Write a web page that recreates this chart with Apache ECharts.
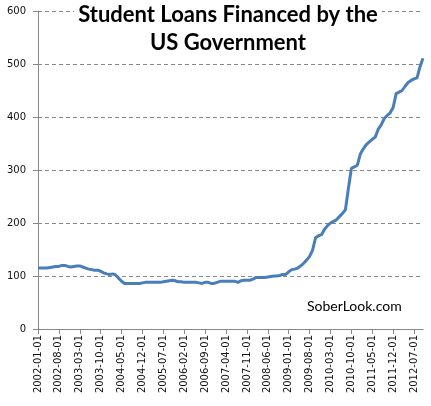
<!DOCTYPE html>
<html>
<head>
<meta charset="utf-8">
<script src="https://cdn.jsdelivr.net/npm/echarts@6/dist/echarts.min.js"></script>
<style>html,body{margin:0;padding:0;background:#fff}#c{width:431px;height:406px}</style>
</head>
<body>
<div id="c"></div>
<script>
// Monthly categories 2002-01 .. 2012-10
const startYear = 2002, startMonth = 1, monthCount = 130;
const categories = [];
for (let i = 0; i < monthCount; i++) {
  const y = startYear + Math.floor((startMonth - 1 + i) / 12);
  const m = ((startMonth - 1 + i) % 12) + 1;
  categories.push(y + '-' + (m < 10 ? '0' + m : m) + '-01');
}
// Student loans financed by the US government (billions $)
const loans = [
  115,115,115,115,116,117,118,118,120,120,
  118,117,118,119,119,117,115,113,112,111,
  111,109,106,104,103,104,102,96,90,86,
  86,86,86,86,86,87,88,88,88,88,
  88,88,89,90,91,92,91,89,89,88,
  88,88,88,88,87,86,88,88,86,86,
  88,90,90,90,90,90,90,88,91,92,
  92,92,94,97,97,97,97,98,99,100,
  100,101,103,103,108,112,113,115,119,124,
  130,137,149,172,176,178,188,195,200,203,
  206,212,218,225,265,303,306,309,330,340,
  348,353,358,362,377,385,397,403,408,418,
  444,447,450,458,465,469,472,474,495,511
];
const yTicks = [0, 100, 200, 300, 400, 500, 600];
const titleText = 'Student Loans Financed by the\nUS Government';
const watermark = 'SoberLook.com';

const chart = echarts.init(document.getElementById('c'));
chart.setOption({
  animation: false,
  backgroundColor: '#fff',
  title: {
    text: titleText,
    left: 224,
    textAlign: 'center',
    top: 0,
    padding: [1, 4, 2, 4],
    backgroundColor: '#fff',
    z: 10,
    textStyle: { fontFamily: 'Lato', fontWeight: 'bold', fontSize: 22, lineHeight: 28, color: '#000' }
  },
  graphic: [{
    type: 'text', left: 307, top: 299, z: 10,
    style: { text: watermark, fontFamily: 'Lato', fontSize: 14, fill: '#000' }
  }],
  grid: { left: 38, right: 8, top: 11, bottom: 77 },
  xAxis: {
    type: 'category',
    data: categories,
    boundaryGap: false,
    axisLine: { lineStyle: { color: '#888', width: 1 } },
    axisTick: { interval: 6, length: 5, lineStyle: { color: '#888' } },
    axisLabel: { interval: 6, rotate: 90, margin: 6, fontFamily: 'DejaVu Sans', fontSize: 10, color: '#111' },
    splitLine: { show: false }
  },
  yAxis: {
    type: 'value',
    min: yTicks[0],
    max: yTicks[yTicks.length - 1],
    interval: 100,
    axisLine: { show: true, lineStyle: { color: '#888', width: 1 } },
    axisTick: { show: true, length: 5, lineStyle: { color: '#888' } },
    axisLabel: { margin: 12, fontFamily: 'DejaVu Sans', fontSize: 10, color: '#111' },
    splitLine: { show: true, lineStyle: { color: '#888', type: [4, 3], width: 1 } }
  },
  series: [{
    type: 'line',
    data: loans,
    showSymbol: false,
    symbol: 'none',
    lineStyle: { color: '#4A7EBB', width: 3 },
    itemStyle: { color: '#4A7EBB' }
  }]
});
</script>
</body>
</html>
